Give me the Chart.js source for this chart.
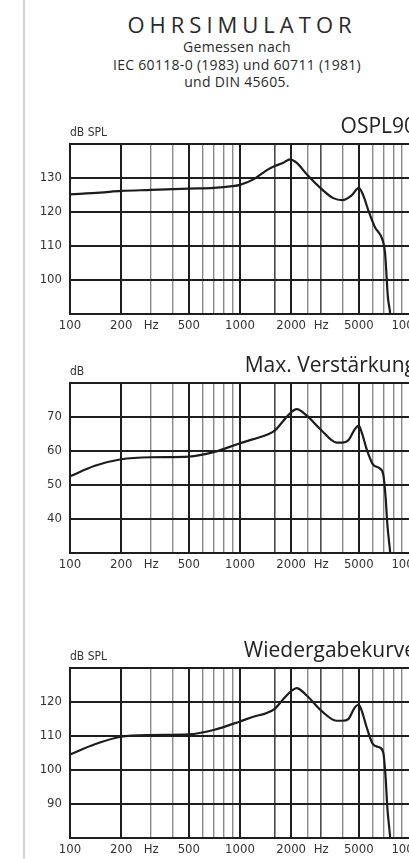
<!DOCTYPE html>
<html>
<head>
<meta charset="utf-8">
<script src="https://cdn.jsdelivr.net/npm/chart.js@4.4.1/dist/chart.umd.min.js"></script>
<style>
html,body{margin:0;padding:0;background:#fff}
body{width:409px;height:859px;overflow:hidden;position:relative}
.rule{position:absolute;left:23px;top:0;width:2px;height:859px;background:#d4d4d4}
.head{position:absolute;left:65px;width:344px;text-align:center;color:#2a2a2a;font-family:"Open Sans",sans-serif}
#h1{top:11px;font-size:22px;line-height:26px;letter-spacing:5px;padding-left:5px;font-weight:normal}
#h2{top:38px;font-size:14px;line-height:17.5px;letter-spacing:0.3px}
canvas{position:absolute;left:0}
</style>
</head>
<body>
<div class="rule"></div>
<div class="head" id="h1">OHRSIMULATOR</div>
<div class="head" id="h2">Gemessen nach<br>IEC 60118-0 (1983) und 60711 (1981)<br>und DIN 45605.</div>
<canvas id="c1" width="470" height="224" style="top:112px"></canvas>
<canvas id="c2" width="470" height="224" style="top:351px"></canvas>
<canvas id="c3" width="470" height="224" style="top:636px"></canvas>
<script>
// OSPL90
const osplFreq=[100,150,200,300,500,700,900,1000,1200,1440,1600,1800,1970,2150,2500,3000,3540,4000,4540,5000,5310,5690,6220,6910,7130,7260,7400,7650,7750]
const osplLevel=[125.1,125.6,126.1,126.4,126.8,127.0,127.5,127.9,129.5,132.2,133.4,134.4,135.4,134.4,130.7,126.8,124.0,123.4,124.8,127.0,124.8,120.4,115.5,111.6,108.1,102.3,95.4,90,86]

// Max. Verstaerkung
const gainFreq=[100,140,200,300,500,700,1000,1200,1440,1600,1800,2000,2155,2470,3000,3700,4000,4340,4750,5000,5200,5560,6040,6600,6960,7190,7360,7650,7750]
const gainLevel=[52.5,55.6,57.5,58.1,58.3,59.6,62.2,63.4,64.7,65.9,68.8,71.3,72.2,70.3,66.1,62.4,62.4,63.1,66.4,67.4,65.4,60.5,56.1,54.9,53.1,46.3,38.4,30,26]

// Wiedergabekurve
const respFreq=[100,140,200,300,500,700,1000,1200,1440,1600,1800,2000,2155,2470,3000,3700,4000,4340,4750,5000,5200,5560,6040,6600,6960,7190,7360,7650,7750]
const respLevel=[104.5,107.5,109.7,110.2,110.4,111.7,114.2,115.6,116.7,117.9,120.8,123.1,124.0,121.8,117.4,114.4,114.4,114.9,118.4,119.1,117.4,112.5,107.6,106.6,105.1,97.8,88.9,80,76]

const gridFreqs=[100,200,300,400,500,600,700,800,900,1000,1600,2000,2500,3000,4000,5000,6000,7000,8000,9000,10000]
const majorFreqs=[100,200,500,1000,2000,5000,10000]
const midFreqs=[1600,3000]
const tickLabels={100:"100",200:"200",300:"Hz",500:"500",1000:"1000",2000:"2000",3000:"Hz",5000:"5000",10000:"10000"}

const axisFont={family:"'Liberation Sans Narrow','DejaVu Sans Condensed',Arial,sans-serif",size:13}

const unitLabel={
id:"unitLabel",
afterDraw(chart,args,opts){
const c=chart.ctx
const a=chart.chartArea
c.save()
c.font="12px "+axisFont.family
c.fillStyle="#333"
c.textAlign="left"
c.textBaseline="middle"
c.fillText(opts.text,a.left,a.top-11)
c.restore()
}
}

function makeChart(id,title,unit,freqs,levels,yMin,yMax){
const pts=freqs.map((f,i)=>({x:f,y:levels[i]}))
new Chart(document.getElementById(id),{
type:"line",
data:{datasets:[{data:pts,borderColor:"#1c1c1c",borderWidth:2.2,pointRadius:0,cubicInterpolationMode:"monotone",fill:false}]},
plugins:[unitLabel],
options:{
responsive:false,
animation:false,
devicePixelRatio:1,
layout:{padding:{left:0,right:54,top:0,bottom:0}},
plugins:{
legend:{display:false},
tooltip:{enabled:false},
title:{display:true,text:title,align:"end",fullSize:false,color:"#222",font:{family:"'Open Sans',sans-serif",size:21,weight:"normal"},padding:{top:2.5,bottom:3.9}},
unitLabel:{text:unit}
},
scales:{
x:{
type:"logarithmic",min:100,max:10850,
afterBuildTicks(s){s.ticks=gridFreqs.map(v=>({value:v}))},
afterFit(s){s.height=22},
grid:{drawTicks:false,
color:c=>majorFreqs.includes(c.tick.value)?"#1e1e1e":midFreqs.includes(c.tick.value)?"#4a4a4a":"#8a8a8a",
lineWidth:c=>majorFreqs.includes(c.tick.value)?2:midFreqs.includes(c.tick.value)?1.6:1.4},
border:{display:true,color:"#1e1e1e",width:2},
ticks:{autoSkip:false,maxRotation:0,padding:4,color:"#333",font:axisFont,callback:v=>tickLabels[v]||""}
},
y:{
min:yMin,max:yMax,
afterFit(s){s.width=70},
grid:{drawTicks:false,color:"#1e1e1e",lineWidth:2},
border:{display:true,color:"#1e1e1e",width:2},
ticks:{stepSize:10,padding:8,color:"#333",font:axisFont,callback:v=>(v===yMin||v===yMax)?"":String(v)}
}
}
}
})
}

makeChart("c1","OSPL90","dB SPL",osplFreq,osplLevel,90,140)
makeChart("c2","Max. Verstärkung","dB",gainFreq,gainLevel,30,80)
makeChart("c3","Wiedergabekurve","dB SPL",respFreq,respLevel,80,130)
</script>
</body>
</html>
